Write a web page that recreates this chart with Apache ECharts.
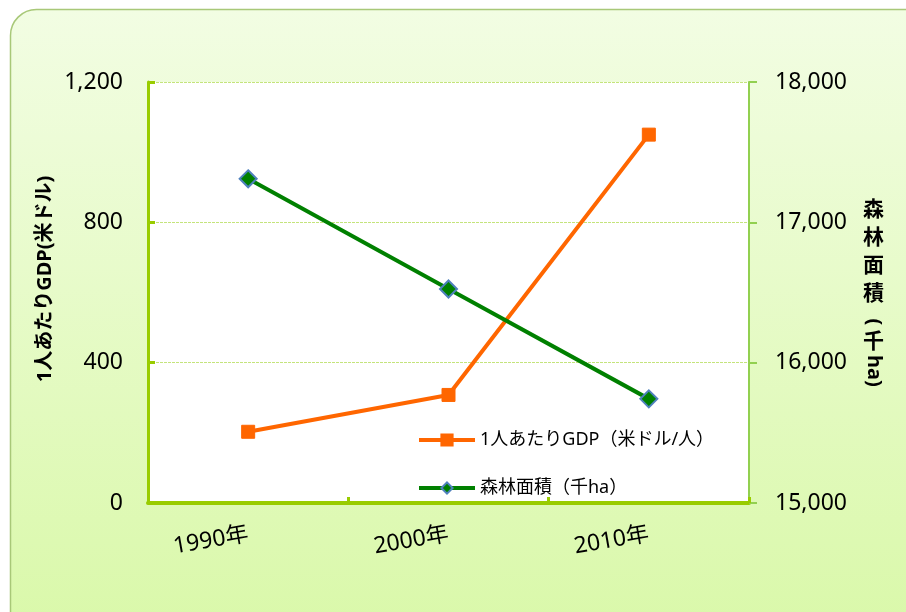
<!DOCTYPE html>
<html>
<head>
<meta charset="utf-8">
<script src="https://cdn.jsdelivr.net/npm/echarts@6/dist/echarts.min.js"></script>
<style>html,body{margin:0;padding:0;background:#fff}#c{width:906px;height:612px}</style>
</head>
<body>
<div id="c"></div>
<script>
const categories = ['1990年', '2000年', '2010年'];
const gdpValues = [203, 308, 1050];
const forestValues = [17310, 16525, 15742];
const leftTicks = [0, 400, 800, 1200];
const rightTicks = [15000, 16000, 17000, 18000];
const gdpName = '1人あたりGDP（米ドル/人）';
const forestName = '森林面積（千ha）';
const leftTitle = '1人あたりGDP(米ドル)';

const FONT = "'Noto Sans', 'Noto Sans CJK JP', sans-serif";
const chart = echarts.init(document.getElementById('c'));
chart.setOption({
  backgroundColor: '#ffffff',
  animation: false,
  textStyle: { fontFamily: FONT },
  graphic: [
    {
      type: 'rect', z: -10, silent: true,
      shape: { x: 10.5, y: 9.5, width: 930, height: 660, r: 26 },
      style: {
        fill: new echarts.graphic.LinearGradient(0, 0, 0, 1, [
          { offset: 0, color: '#f2fde3' },
          { offset: 1, color: '#d8f8a6' }
        ]),
        stroke: '#a8c878', lineWidth: 1.5
      }
    },
    {
      type: 'text', x: 45, y: 279, rotation: Math.PI / 2,
      style: { text: leftTitle, font: "bold 20px 'Noto Sans', 'Noto Sans CJK JP'", fill: '#000', align: 'center', verticalAlign: 'middle' }
    },
    {
      type: 'text', left: 863, top: 194,
      style: { text: '森\n林\n面\n積', font: "bold 21px 'Noto Sans CJK JP'", lineHeight: 28, fill: '#000' }
    },
    {
      type: 'text', x: 874, y: 322, rotation: -Math.PI / 2,
      style: { text: '(', font: "bold 20px 'Noto Sans'", fill: '#000', align: 'center', verticalAlign: 'middle' }
    },
    {
      type: 'text', left: 863, top: 330,
      style: { text: '千', font: "bold 21px 'Noto Sans CJK JP'", fill: '#000' }
    },
    {
      type: 'text', x: 874, y: 371, rotation: -Math.PI / 2,
      style: { text: 'ha)', font: "bold 20px 'Noto Sans'", fill: '#000', align: 'center', verticalAlign: 'middle' }
    }
  ],
  grid: { left: 148, right: 157, top: 82, bottom: 109, show: true, backgroundColor: '#ffffff', borderWidth: 0 },
  legend: {
    orient: 'vertical', left: 412, top: 426, itemGap: 30,
    itemWidth: 56, itemHeight: 14,
    textStyle: { fontSize: 18, color: '#000', fontFamily: FONT },
    data: [
      { name: gdpName, lineStyle: { width: 4 } },
      { name: forestName, lineStyle: { width: 4 } }
    ]
  },
  xAxis: {
    type: 'category', data: categories, boundaryGap: true,
    axisLine: { lineStyle: { color: '#99cc00', width: 4 } },
    axisTick: { show: true, inside: true, length: 6, lineStyle: { color: '#99cc00', width: 3 } },
    axisLabel: { rotate: 10, fontSize: 23, color: '#000', margin: 31 },
    splitLine: { show: false }
  },
  yAxis: [
    {
      type: 'value', min: 0, max: 1200, interval: 400, position: 'left',
      axisLine: { show: true, lineStyle: { color: '#99cc00', width: 3 } },
      axisTick: { show: true, inside: true, length: 7, lineStyle: { color: '#99cc00', width: 3 } },
      axisLabel: { fontSize: 23, color: '#000', margin: 25,
        formatter: v => leftTicks.includes(v) ? v.toLocaleString('en-US') : '' },
      splitLine: { show: true, lineStyle: { color: '#c4e47c', width: 1, type: [3, 1] } }
    },
    {
      type: 'value', min: 15000, max: 18000, interval: 1000, position: 'right',
      axisLine: { show: true, lineStyle: { color: '#92d050', width: 2 } },
      axisTick: { show: true, inside: false, length: 8, lineStyle: { color: '#92d050', width: 2 } },
      axisLabel: { fontSize: 23, color: '#000', margin: 26,
        formatter: v => rightTicks.includes(v) ? v.toLocaleString('en-US') : '' },
      splitLine: { show: false }
    }
  ],
  series: [
    {
      name: gdpName, type: 'line', yAxisIndex: 0, data: gdpValues,
      symbol: 'rect', symbolSize: 13,
      lineStyle: { color: '#ff6600', width: 4 },
      itemStyle: { color: '#ff6600', borderColor: '#ff6600', borderWidth: 1 },
      z: 3
    },
    {
      name: forestName, type: 'line', yAxisIndex: 1, data: forestValues,
      symbol: 'diamond', symbolSize: 17,
      lineStyle: { color: '#008000', width: 4 },
      itemStyle: { color: '#008000', borderColor: '#4f81bd', borderWidth: 2 },
      z: 4
    }
  ]
});
</script>
</body>
</html>
